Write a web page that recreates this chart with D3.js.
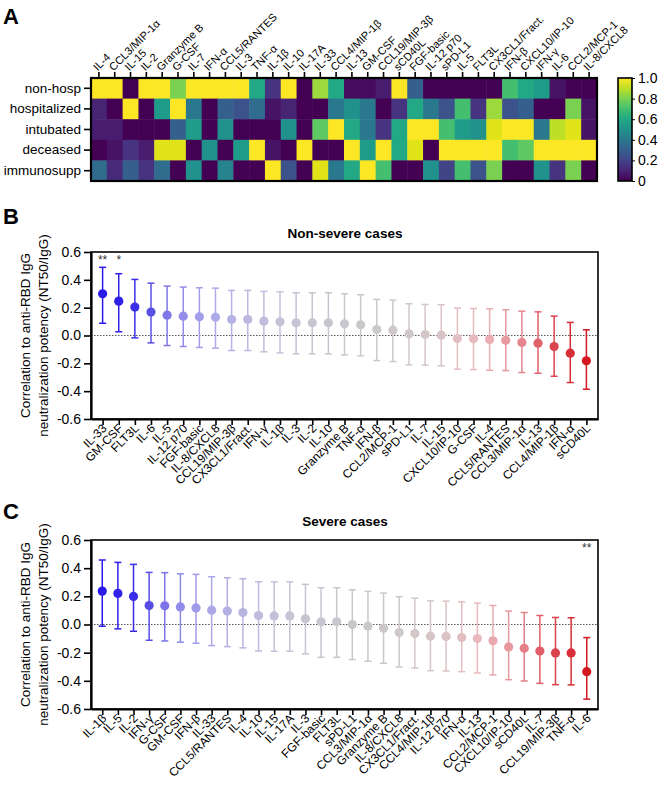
<!DOCTYPE html>
<html>
<head>
<meta charset="utf-8">
<script src="https://cdn.jsdelivr.net/npm/d3@7/dist/d3.min.js"></script>
<style>
  body { margin: 0; background: #fff; }
  text { font-family: "Liberation Sans", Arial, sans-serif; }
</style>
</head>
<body>
<div id="root"></div>
<script>
// heatmap data (panel A)
const heatCols = ["IL-4", "CCL3/MIP-1α", "IL-15", "IL-2", "Granzyme B", "G-CSF", "IL-7", "IFN-α",
  "CCL5/RANTES", "IL-3", "TNF-α", "IL-1β", "IL-10", "IL-17A", "IL-33", "CCL4/MIP-1β", "IL-13",
  "GM-CSF", "CCL19/MIP-3β", "sCD40L", "FGF-basic", "IL-12 p70", "sPD-L1", "IL-5", "FLT3L",
  "CX3CL1/Fract.", "IFN-β", "CXCL10/IP-10", "IFN-γ", "IL-6", "CCL2/MCP-1", "IL-8/CXCL8"];
const heatRows = ["non-hosp", "hospitalized", "intubated", "deceased", "immunosupp"];
const heatNonHosp    = [1, 1, 0, 1, 1, 0.8, 1, 1, 1, 1, 0.6, 0.15, 1, 0, 0.85, 0.6, 0.03, 0.03, 0.08, 1, 0.3, 0, 0, 0, 0, 0, 0.7, 0.6, 0.55, 0.05, 0, 0];
const heatHosp       = [0.1, 0, 1, 0, 0.55, 1, 0.4, 0, 0.3, 0.25, 0.35, 0.05, 0.1, 0, 0, 0.4, 0.5, 0.4, 0, 0.15, 0.6, 0.4, 0.25, 0.7, 0.15, 0.85, 0.25, 0.3, 0, 0, 0.8, 0.05];
const heatIntubated  = [0.08, 0.08, 0, 0, 0, 0.3, 0.55, 0, 0.5, 0, 0, 0, 0.5, 0, 0.75, 1, 0.6, 0.4, 0.15, 0.6, 1, 1, 0.7, 0.55, 0.5, 0.95, 1, 1, 0.4, 0.9, 0.95, 0.05];
const heatDeceased   = [0, 0.05, 0.15, 0.08, 0.95, 0.95, 0, 0.5, 0, 0.55, 1, 0.05, 0, 1, 0, 0, 1, 0.55, 1, 0.6, 0.95, 0, 1, 1, 1, 1, 0.7, 0.75, 1, 1, 1, 1];
const heatImmuno     = [0.35, 0.12, 0.3, 0.15, 0.35, 0, 0.5, 0, 0.45, 0, 0, 1, 0.25, 0, 0.95, 0.4, 0.6, 1, 0.7, 0, 0, 0.5, 0.2, 0.7, 0.25, 0.8, 0, 0, 0.5, 0.15, 0.8, 0];
const heatVals = [heatNonHosp, heatHosp, heatIntubated, heatDeceased, heatImmuno];
const colorbarTicks = [0, 0.2, 0.4, 0.6, 0.8, 1.0];

// panel B: non-severe cases
const nonSevereLabels = ["IL-33", "GM-CSF", "FLT3L", "IL-6", "IL-5", "IL-12 p70", "FGF-basic", "IL-8/CXCL8",
  "CCL19/MIP-3β", "CX3CL1/Fract.", "IFN-γ", "IL-1β", "IL-3", "IL-2", "IL-10", "Granzyme B", "TNF-α",
  "IFN-β", "CCL2/MCP-1", "sPD-L1", "IL-7", "IL-15", "CXCL10/IP-10", "G-CSF", "IL-4", "CCL5/RANTES",
  "CCL3/MIP-1α", "IL-13", "CCL4/MIP-1β", "IFN-α", "sCD40L"];
const nonSevereR  = [0.30, 0.247, 0.204, 0.168, 0.146, 0.139, 0.134, 0.132, 0.115, 0.115, 0.103, 0.098, 0.091, 0.091, 0.091, 0.084, 0.077, 0.043, 0.038, 0.012, 0.007, 0.002, -0.022, -0.024, -0.029, -0.034, -0.05, -0.055, -0.079, -0.127, -0.182];
const nonSevereHi = [0.49, 0.444, 0.403, 0.376, 0.355, 0.348, 0.343, 0.34, 0.324, 0.324, 0.317, 0.314, 0.307, 0.307, 0.307, 0.30, 0.293, 0.259, 0.254, 0.228, 0.223, 0.221, 0.197, 0.194, 0.192, 0.185, 0.175, 0.17, 0.139, 0.094, 0.041];
const nonSevereLo = [0.088, 0.027, -0.017, -0.053, -0.072, -0.079, -0.086, -0.091, -0.108, -0.108, -0.117, -0.125, -0.132, -0.132, -0.132, -0.139, -0.146, -0.18, -0.187, -0.211, -0.213, -0.218, -0.242, -0.245, -0.25, -0.252, -0.266, -0.271, -0.293, -0.338, -0.386];
const nonSevereSig = {"IL-33": "**", "GM-CSF": "*"};

// panel C: severe cases
const severeLabels = ["IL-1β", "IL-5", "IL-2", "IFN-γ", "G-CSF", "GM-CSF", "IFN-β", "IL-33", "CCL5/RANTES",
  "IL-4", "IL-10", "IL-15", "IL-17A", "IL-3", "FGF-basic", "FLT3L", "sPD-L1", "CCL3/MIP-1α", "Granzyme B",
  "IL-8/CXCL8", "CX3CL1/Fract.", "CCL4/MIP-1β", "IL-12 p70", "IFN-α", "IL-13", "CCL2/MCP-1",
  "CXCL10/IP-10", "sCD40L", "IL-7", "CCL19/MIP-3β", "TNF-α", "IL-6"];
const severeR  = [0.237, 0.221, 0.199, 0.135, 0.133, 0.125, 0.118, 0.102, 0.095, 0.085, 0.064, 0.061, 0.061, 0.04, 0.019, 0.019, 0.0, -0.012, -0.026, -0.057, -0.064, -0.083, -0.085, -0.093, -0.10, -0.116, -0.159, -0.169, -0.188, -0.202, -0.202, -0.335];
const severeHi = [0.458, 0.441, 0.427, 0.37, 0.368, 0.36, 0.356, 0.339, 0.332, 0.325, 0.303, 0.303, 0.303, 0.285, 0.261, 0.261, 0.246, 0.235, 0.223, 0.197, 0.187, 0.168, 0.166, 0.161, 0.152, 0.135, 0.095, 0.085, 0.064, 0.05, 0.048, -0.093];
const severeLo = [-0.012, -0.031, -0.048, -0.112, -0.117, -0.126, -0.133, -0.15, -0.157, -0.166, -0.188, -0.19, -0.19, -0.209, -0.233, -0.233, -0.249, -0.261, -0.275, -0.302, -0.309, -0.328, -0.33, -0.335, -0.344, -0.358, -0.392, -0.401, -0.418, -0.427, -0.429, -0.53];
const severeSig = {"IL-6": "**"};

const yTicks = [-0.6, -0.4, -0.2, 0.0, 0.2, 0.4, 0.6];

const width = 660;
const height = 791;

const svg = d3.select("#root")
  .append("svg")
  .attr("width", width)
  .attr("height", height);

// panel letters
[["A", 24], ["B", 224], ["C", 519]].forEach(([t, y]) => {
  svg.append("text")
    .attr("x", 3)
    .attr("y", y)
    .attr("font-size", 22)
    .attr("font-weight", "bold")
    .text(t);
});

// ---- panel A: heatmap ----
const hx = d3.scaleBand().domain(heatCols).range([91, 597]);
const hy = d3.scaleBand().domain(heatRows).range([78, 181]);

heatRows.forEach((row, ri) => {
  svg.append("g")
    .selectAll("rect")
    .data(heatVals[ri])
    .enter()
    .append("rect")
    .attr("x", (d, i) => hx(heatCols[i]))
    .attr("y", hy(row))
    .attr("width", hx.bandwidth() + 0.5)
    .attr("height", hy.bandwidth() + 0.5)
    .attr("fill", d => d3.interpolateViridis(d));
});

svg.append("rect")
  .attr("x", 91).attr("y", 78)
  .attr("width", 506).attr("height", 103)
  .attr("fill", "none").attr("stroke", "#000").attr("stroke-width", 2.2);

const hTop = svg.append("g")
  .attr("transform", "translate(0,77)")
  .call(d3.axisTop(hx).tickSize(5).tickSizeOuter(0));
hTop.select(".domain").remove();
hTop.selectAll("line").attr("stroke-width", 1.6);
hTop.selectAll("text")
  .attr("font-size", 11)
  .attr("font-family", "Liberation Sans, Arial, sans-serif")
  .attr("text-anchor", "start")
  .attr("transform", "rotate(-45)")
  .attr("dx", "0.1em")
  .attr("dy", "0.2em")
  .attr("x", 2)
  .attr("y", -7)
  .attr("fill", "#000");

const hLeft = svg.append("g")
  .attr("transform", "translate(90,0)")
  .call(d3.axisLeft(hy).tickSize(6).tickSizeOuter(0));
hLeft.select(".domain").remove();
hLeft.selectAll("line").attr("stroke-width", 1.6);
hLeft.selectAll("text")
  .attr("font-size", 13.5)
  .attr("font-family", "Liberation Sans, Arial, sans-serif")
  .attr("fill", "#000");

// colorbar
const cbY = d3.scaleLinear().domain([0, 1]).range([181, 78]);
const defs = svg.append("defs");
const grad = defs.append("linearGradient")
  .attr("id", "viridis")
  .attr("x1", 0).attr("y1", 1).attr("x2", 0).attr("y2", 0);
d3.range(0, 1.001, 0.1).forEach(t => {
  grad.append("stop").attr("offset", t).attr("stop-color", d3.interpolateViridis(t));
});
svg.append("rect")
  .attr("x", 618).attr("y", 78)
  .attr("width", 14).attr("height", 103)
  .attr("fill", "url(#viridis)")
  .attr("stroke", "#000").attr("stroke-width", 1.6);
const cbAxis = svg.append("g")
  .attr("transform", "translate(632,0)")
  .call(d3.axisRight(cbY).tickValues(colorbarTicks).tickSize(3)
    .tickFormat(d => d === 0 ? "0" : d.toFixed(1)));
cbAxis.select(".domain").remove();
cbAxis.selectAll("text")
  .attr("font-size", 14)
  .attr("font-family", "Liberation Sans, Arial, sans-serif")
  .attr("fill", "#000");

// ---- panels B and C ----
function pointColor(i, n) {
  const t = i / (n - 1);
  const c = d3.scaleLinear()
    .domain([0, 0.06, 0.1, 0.14, 0.22, 0.36, 0.55, 0.68, 0.78, 0.86, 0.92, 1])
    .range(["#2a1aea", "#3527e8", "#5a50e6", "#8780e8", "#aca8ea", "#c4c2d8", "#c9c9c9", "#d6c6c8",
      "#eab8bc", "#e68c94", "#dc4c55", "#d31a22"])
    .interpolate(d3.interpolateRgb);
  return c(t);
}

function drawPanel(labels, r, lo, hi, sig, top, bottom, title) {
  const x = d3.scalePoint().domain(labels).range([91, 598]).padding(0.72);
  const y = d3.scaleLinear().domain([-0.6, 0.6]).range([bottom, top]);
  const g = svg.append("g");

  g.append("text")
    .attr("x", 345)
    .attr("y", top - 14)
    .attr("text-anchor", "middle")
    .attr("font-size", 13.5)
    .attr("font-weight", "bold")
    .text(title);

  // zero line
  g.append("line")
    .attr("x1", 91).attr("x2", 598)
    .attr("y1", y(0)).attr("y2", y(0))
    .attr("stroke", "#555").attr("stroke-width", 1)
    .attr("stroke-dasharray", "1.5,1.5");

  // frame
  g.append("rect")
    .attr("x", 91).attr("y", top)
    .attr("width", 507).attr("height", bottom - top)
    .attr("fill", "none").attr("stroke", "#000").attr("stroke-width", 1.6);

  const yAxis = g.append("g")
    .attr("transform", "translate(91,0)")
    .call(d3.axisLeft(y).tickValues(yTicks).tickSize(7).tickSizeOuter(0)
      .tickFormat(d => d.toFixed(1)));
  yAxis.select(".domain").attr("stroke-width", 2.2);
  yAxis.selectAll("line").attr("stroke-width", 1.6);
  yAxis.selectAll("text")
    .attr("font-size", 14)
    .attr("font-family", "Liberation Sans, Arial, sans-serif")
    .attr("fill", "#000");

  const xAxis = g.append("g")
    .attr("transform", `translate(0,${bottom})`)
    .call(d3.axisBottom(x).tickSize(6).tickSizeOuter(0));
  xAxis.select(".domain").attr("stroke-width", 2.2);
  xAxis.selectAll("line").attr("stroke-width", 1.6);
  xAxis.selectAll("text")
    .attr("font-size", 12)
    .attr("font-family", "Liberation Sans, Arial, sans-serif")
    .attr("fill", "#000")
    .attr("text-anchor", "end")
    .attr("transform", "rotate(-45)")
    .attr("x", -4)
    .attr("y", 6)
    .attr("dy", "0.35em");

  // y title
  const cy = (top + bottom) / 2;
  g.append("text")
    .attr("transform", `translate(30,${cy}) rotate(-90)`)
    .attr("text-anchor", "middle")
    .attr("font-size", 13.5)
    .text("Correlation to anti-RBD IgG");
  g.append("text")
    .attr("transform", `translate(48,${cy}) rotate(-90)`)
    .attr("text-anchor", "middle")
    .attr("font-size", 13.5)
    .text("neutralization potency (NT50/IgG)");

  const n = labels.length;
  const pts = g.append("g")
    .selectAll("g")
    .data(labels)
    .enter()
    .append("g")
    .attr("transform", d => `translate(${x(d)},0)`);

  pts.append("line")
    .attr("y1", (d, i) => y(lo[i]))
    .attr("y2", (d, i) => y(hi[i]))
    .attr("stroke", (d, i) => pointColor(i, n))
    .attr("stroke-width", 1.5);
  pts.append("line")
    .attr("x1", -3.5).attr("x2", 3.5)
    .attr("y1", (d, i) => y(hi[i])).attr("y2", (d, i) => y(hi[i]))
    .attr("stroke", (d, i) => pointColor(i, n))
    .attr("stroke-width", 1.5);
  pts.append("line")
    .attr("x1", -3.5).attr("x2", 3.5)
    .attr("y1", (d, i) => y(lo[i])).attr("y2", (d, i) => y(lo[i]))
    .attr("stroke", (d, i) => pointColor(i, n))
    .attr("stroke-width", 1.5);
  pts.append("circle")
    .attr("cy", (d, i) => y(r[i]))
    .attr("r", 4.6)
    .attr("fill", (d, i) => pointColor(i, n));

  pts.filter(d => sig[d])
    .append("text")
    .attr("y", top + 12)
    .attr("text-anchor", "middle")
    .attr("font-size", 12)
    .attr("fill", "#333")
    .text(d => sig[d]);
}

drawPanel(nonSevereLabels, nonSevereR, nonSevereLo, nonSevereHi, nonSevereSig, 252, 419, "Non-severe cases");
drawPanel(severeLabels, severeR, severeLo, severeHi, severeSig, 540, 709, "Severe cases");
</script>
</body>
</html>
